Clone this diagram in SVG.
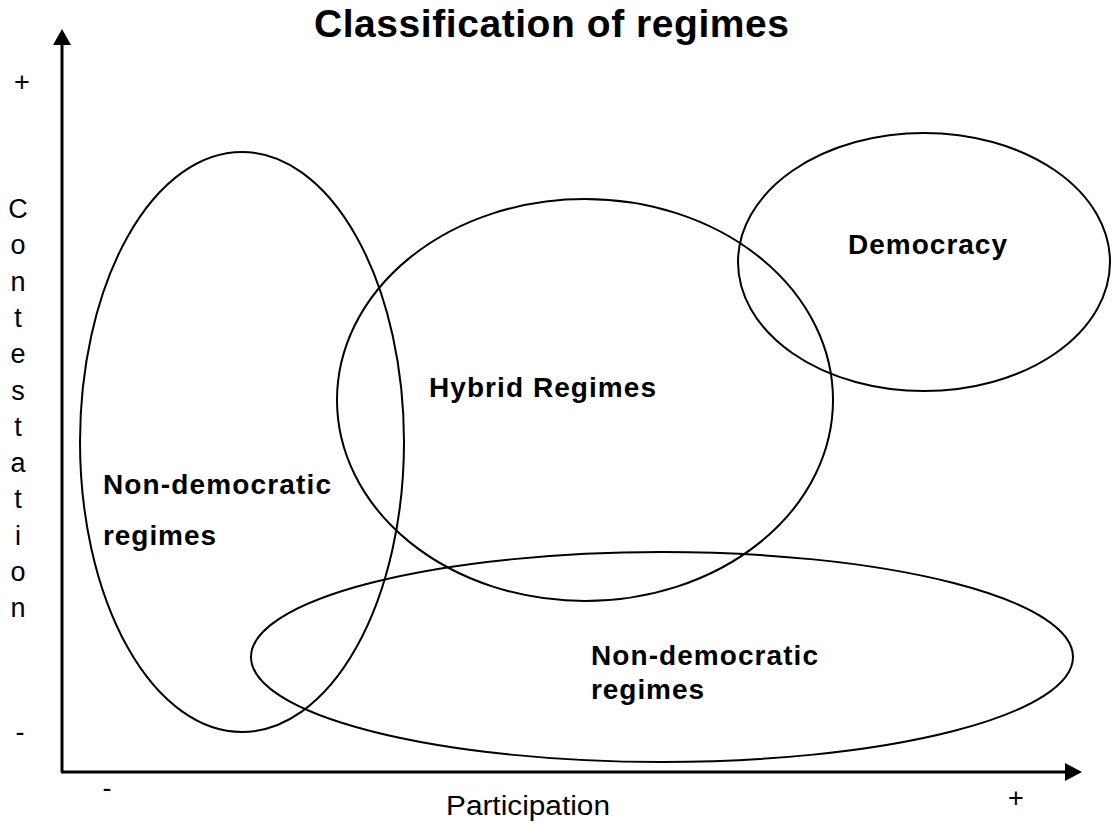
<svg xmlns="http://www.w3.org/2000/svg" width="1113" height="823" viewBox="0 0 1113 823">
<style>
.el{fill:none;stroke:#000;stroke-width:2}
.ax{fill:none;stroke:#000;stroke-width:3}
.lb{font-family:"Liberation Sans",Arial,sans-serif;font-weight:bold;font-size:28px;fill:#000}
.tx{font-family:"Liberation Sans",Arial,sans-serif;font-size:27px;fill:#000}
.vt{font-family:"Liberation Sans",Arial,sans-serif;font-size:27px;fill:#000;text-anchor:middle}
</style>
<rect width="1113" height="823" fill="#fff"/>
<text x="314" y="37" font-family="Liberation Sans, Arial, sans-serif" font-weight="bold" font-size="39" textLength="475" lengthAdjust="spacing">Classification of regimes</text>
<g id="axes">
<line class="ax" x1="62" y1="772" x2="62" y2="42"/>
<polygon points="62,29 53,45 71,45" fill="#000"/>
<line class="ax" x1="61" y1="772" x2="1068" y2="772"/>
<polygon points="1082,772 1065,763 1065,781" fill="#000"/>
</g>
<g id="axis-labels">
<text class="vt" x="22" y="91">+</text>
<text class="vt" x="20" y="741">-</text>
<text class="vt" x="107" y="797">-</text>
<text class="vt" x="1016" y="807">+</text>
<text class="tx" x="446" y="815" textLength="164" lengthAdjust="spacingAndGlyphs">Participation</text>
<g id="contestation">
<text class="vt" x="18" y="218">C</text>
<text class="vt" x="18" y="254">o</text>
<text class="vt" x="18" y="291">n</text>
<text class="vt" x="18" y="327">t</text>
<text class="vt" x="18" y="363">e</text>
<text class="vt" x="18" y="400">s</text>
<text class="vt" x="18" y="436">t</text>
<text class="vt" x="18" y="472">a</text>
<text class="vt" x="18" y="508">t</text>
<text class="vt" x="18" y="545">i</text>
<text class="vt" x="18" y="581">o</text>
<text class="vt" x="18" y="617">n</text>
</g>
</g>
<g id="non-democratic-left">
<ellipse class="el" cx="242" cy="442" rx="162" ry="290"/>
<text class="lb" x="103" y="494" textLength="228" lengthAdjust="spacing">Non-democratic</text>
<text class="lb" x="103" y="545" textLength="113" lengthAdjust="spacing">regimes</text>
</g>
<g id="hybrid">
<ellipse class="el" cx="585" cy="400" rx="248" ry="201"/>
<text class="lb" x="429" y="397" textLength="227" lengthAdjust="spacing">Hybrid Regimes</text>
</g>
<g id="democracy">
<ellipse class="el" cx="924" cy="262" rx="186" ry="129"/>
<text class="lb" x="848" y="254" textLength="159" lengthAdjust="spacing">Democracy</text>
</g>
<g id="non-democratic-bottom">
<ellipse class="el" cx="662" cy="657" rx="411" ry="105"/>
<text class="lb" x="591" y="665" textLength="227" lengthAdjust="spacing">Non-democratic</text>
<text class="lb" x="591" y="699" textLength="113" lengthAdjust="spacing">regimes</text>
</g>
</svg>
